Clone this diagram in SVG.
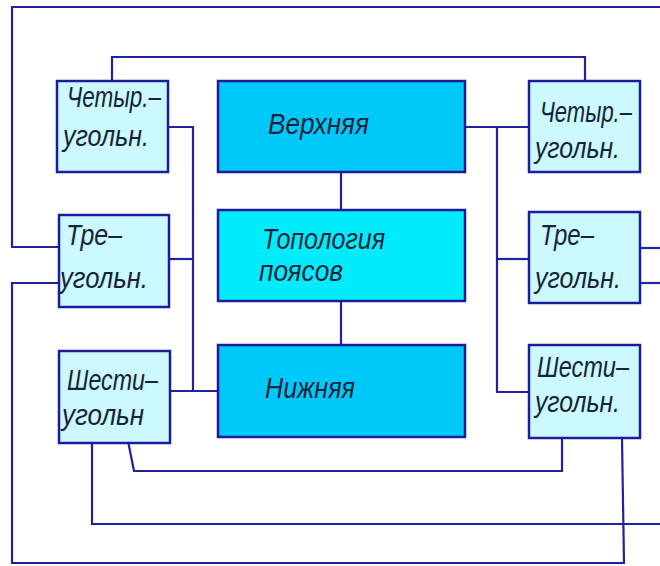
<svg xmlns="http://www.w3.org/2000/svg" width="660" height="566" viewBox="0 0 660 566">
<style>
.small{fill:#ccf9fd;stroke:#1c1c9c;stroke-width:2.5}
.big{fill:#00c9fa;stroke:#1c1c9c;stroke-width:2.5}
.mid{fill:#00ecfa;stroke:#1c1c9c;stroke-width:2.5}
.ln{fill:none;stroke:#22229e;stroke-width:2.2;stroke-linejoin:miter}
text{font-family:"Liberation Sans","DejaVu Sans",sans-serif;font-style:italic;font-size:24px;fill:#14243a}
</style>
<rect width="660" height="566" fill="#ffffff"/>
<g id="connectors">
<path class="ln" d="M660,7 H12 V247 H60"/>
<path class="ln" d="M60,283 H12 V563 H624 L622,438"/>
<path class="ln" d="M92,443 V524 H660"/>
<path class="ln" d="M128,441 L134,471 H562 V438"/>
<path class="ln" d="M112,81 V57 H585 V81"/>
<path class="ln" d="M167,127 H193 V391"/>
<path class="ln" d="M169,259 H193"/>
<path class="ln" d="M170,391 H218"/>
<path class="ln" d="M465,127 H529"/>
<path class="ln" d="M497,127 V392 H529"/>
<path class="ln" d="M497,259 H529"/>
<path class="ln" d="M640,248 H660"/>
<path class="ln" d="M640,283 H660"/>
<path class="ln" d="M341,172 V210"/>
<path class="ln" d="M341,301 V345"/>
</g>
<g id="quad-left">
<rect class="small" x="57" y="81" width="111" height="91"/>
<text transform="translate(67,107) scale(1,1.25)" textLength="94" lengthAdjust="spacingAndGlyphs">Четыр.–</text>
<text transform="translate(63,146) scale(1,1.25)" textLength="86" lengthAdjust="spacingAndGlyphs">угольн.</text>
</g>
<g id="upper">
<rect class="big" x="218" y="81" width="247" height="91"/>
<text transform="translate(268,134) scale(1,1.25)" textLength="101" lengthAdjust="spacingAndGlyphs">Верхняя</text>
</g>
<g id="quad-right">
<rect class="small" x="529" y="81" width="111" height="91"/>
<text transform="translate(540,122) scale(1,1.25)" textLength="92" lengthAdjust="spacingAndGlyphs">Четыр.–</text>
<text transform="translate(535,158) scale(1,1.25)" textLength="85" lengthAdjust="spacingAndGlyphs">угольн.</text>
</g>
<g id="tri-left">
<rect class="small" x="59" y="215" width="110" height="92"/>
<text transform="translate(66,245) scale(1,1.25)" textLength="56" lengthAdjust="spacingAndGlyphs">Тре–</text>
<text transform="translate(60,288) scale(1,1.25)" textLength="88" lengthAdjust="spacingAndGlyphs">угольн.</text>
</g>
<g id="topology">
<rect class="mid" x="218" y="210" width="247" height="91"/>
<text transform="translate(262,249) scale(1,1.2)" textLength="123" lengthAdjust="spacingAndGlyphs">Топология</text>
<text transform="translate(259,281) scale(1,1.2)" textLength="84" lengthAdjust="spacingAndGlyphs">поясов</text>
</g>
<g id="tri-right">
<rect class="small" x="529" y="212" width="111" height="91"/>
<text transform="translate(540,245) scale(1,1.25)" textLength="54" lengthAdjust="spacingAndGlyphs">Тре–</text>
<text transform="translate(535,288) scale(1,1.25)" textLength="86" lengthAdjust="spacingAndGlyphs">угольн.</text>
</g>
<g id="hex-left">
<rect class="small" x="59" y="351" width="111" height="92"/>
<text transform="translate(67,390) scale(1,1.25)" textLength="91" lengthAdjust="spacingAndGlyphs">Шести–</text>
<text transform="translate(62,425) scale(1,1.25)" textLength="82" lengthAdjust="spacingAndGlyphs">угольн</text>
</g>
<g id="lower">
<rect class="big" x="218" y="345" width="247" height="92"/>
<text transform="translate(265,398) scale(1,1.25)" textLength="90" lengthAdjust="spacingAndGlyphs">Нижняя</text>
</g>
<g id="hex-right">
<rect class="small" x="529" y="345" width="111" height="93"/>
<text transform="translate(537,377) scale(1,1.25)" textLength="92" lengthAdjust="spacingAndGlyphs">Шести–</text>
<text transform="translate(535,412) scale(1,1.25)" textLength="85" lengthAdjust="spacingAndGlyphs">угольн.</text>
</g>
</svg>
